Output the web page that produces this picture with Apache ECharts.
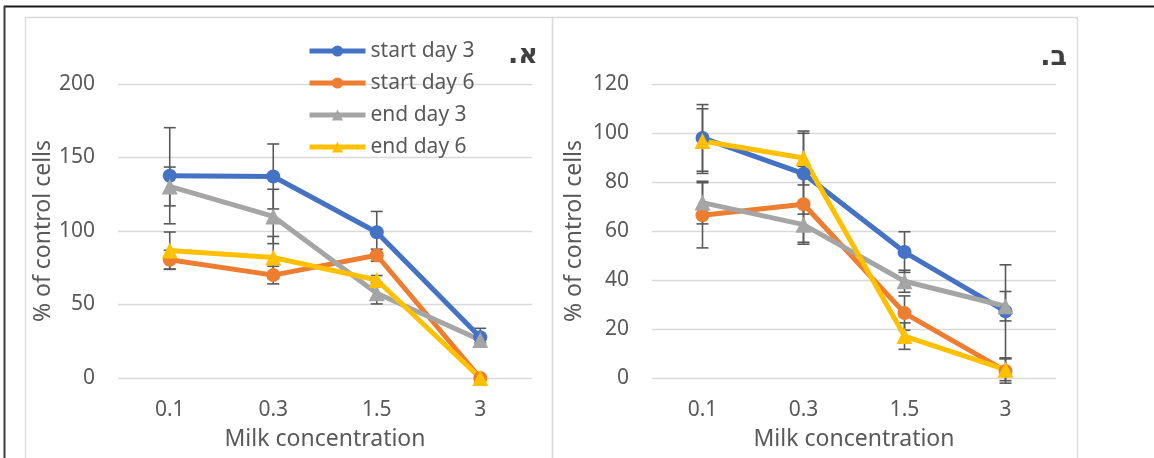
<!DOCTYPE html>
<html>
<head>
<meta charset="utf-8">
<script src="https://cdn.jsdelivr.net/npm/echarts@6/dist/echarts.min.js"></script>
<style>
  html, body { margin: 0; padding: 0; background: #fff; }
  #chart { width: 1154px; height: 458px; }
</style>
</head>
<body>
<div id="chart"></div>
<script>
// data
const categories = ['0.1', '0.3', '1.5', '3'];
const seriesNames = ['start day 3', 'start day 6', 'end day 3', 'end day 6'];

// panel א
const aStartDay3 = [137.6, 137.1, 99.2, 27.7];
const aStartDay6 = [80.4, 70.0, 83.5, 0];
const aEndDay3 = [130.3, 109.9, 57.7, 25.9];
const aEndDay6 = [86.7, 82.0, 66.7, 0];
const aErrStartDay3 = [32.7, 22.1, 14.1, 6.1];
const aErrStartDay6 = [6.5, 6.0, 4.1, 0];
const aErrEndDay3 = [13.2, 18.5, 7.3, 2];
const aErrEndDay6 = [12.6, 14.3, 3, 0];

// panel ב
const bStartDay3 = [98.0, 83.4, 51.4, 27.2];
const bStartDay6 = [66.4, 70.9, 26.5, 2.9];
const bEndDay3 = [71.6, 62.6, 39.5, 29.3];
const bEndDay6 = [96.7, 89.8, 17.1, 3.4];
const bErrStartDay3 = [13.6, 16.5, 8.3, 19];
const bErrStartDay6 = [13.3, 15.5, 7, 5];
const bErrEndDay3 = [8.7, 8, 4.5, 6];
const bErrEndDay6 = [13.2, 11, 5.4, 4.5];

const colors = ['#4472C4', '#ED7D31', '#A5A5A5', '#FFC000'];
const symbols = ['circle', 'circle', 'triangle', 'triangle'];
const textColor = '#595959';
const font = 'Noto Sans';

const chart = echarts.init(document.getElementById('chart'));

function errorRenderer(params, api) {
  const x = api.value(0);
  const lo = api.value(1);
  const hi = api.value(2);
  if (hi - lo <= 0) return null;
  const top = api.coord([x, hi]);
  const bot = api.coord([x, lo]);
  const hw = 6;
  const style = { stroke: '#595959', lineWidth: 1.6 };
  return {
    type: 'group',
    children: [
      { type: 'line', shape: { x1: top[0], y1: top[1], x2: bot[0], y2: bot[1] }, style },
      { type: 'line', shape: { x1: top[0] - hw, y1: top[1], x2: top[0] + hw, y2: top[1] }, style },
      { type: 'line', shape: { x1: bot[0] - hw, y1: bot[1], x2: bot[0] + hw, y2: bot[1] }, style }
    ]
  };
}

function makeSeries(idx, values, errs, name, color, symbol) {
  const errData = values.map((v, i) => [i, v - errs[i], v + errs[i]]);
  return [
    {
      type: 'custom',
      xAxisIndex: idx,
      yAxisIndex: idx,
      renderItem: errorRenderer,
      encode: { x: 0, y: [1, 2] },
      data: errData,
      z: 1,
      silent: true
    },
    {
      name,
      type: 'line',
      xAxisIndex: idx,
      yAxisIndex: idx,
      data: values,
      symbol,
      symbolSize: symbol === 'circle' ? 14 : 16,
      lineStyle: { color, width: 5 },
      itemStyle: { color },
      z: 3
    }
  ];
}

const aValues = [aStartDay3, aStartDay6, aEndDay3, aEndDay6];
const aErrs = [aErrStartDay3, aErrStartDay6, aErrEndDay3, aErrEndDay6];
const bValues = [bStartDay3, bStartDay6, bEndDay3, bEndDay6];
const bErrs = [bErrStartDay3, bErrStartDay6, bErrEndDay3, bErrEndDay6];

let series = [];
seriesNames.forEach((n, i) => {
  series = series.concat(makeSeries(0, aValues[i], aErrs[i], n, colors[i], symbols[i]));
});
seriesNames.forEach((n, i) => {
  series = series.concat(makeSeries(1, bValues[i], bErrs[i], n, colors[i], symbols[i]));
});

function xAxisFor(idx) {
  return {
    type: 'category',
    gridIndex: idx,
    data: categories,
    boundaryGap: true,
    axisLine: { show: false },
    axisTick: { show: false },
    axisLabel: { color: textColor, fontFamily: font, fontSize: 21, margin: 22 },
    name: 'Milk concentration',
    nameLocation: 'middle',
    nameGap: 50,
    nameTextStyle: { color: textColor, fontFamily: font, fontSize: 23 }
  };
}

function yAxisFor(idx, max, interval, gap) {
  return {
    type: 'value',
    gridIndex: idx,
    min: 0,
    max,
    interval,
    axisLine: { show: false },
    axisTick: { show: false },
    splitLine: { lineStyle: { color: '#D9D9D9', width: 1.3 } },
    axisLabel: { color: textColor, fontFamily: font, fontSize: 21, margin: 23 },
    name: '% of control cells',
    nameLocation: 'middle',
    nameGap: gap,
    nameTextStyle: { color: textColor, fontFamily: font, fontSize: 23 }
  };
}

// panel letters: force visual order "dot, letter" as in the picture
const LRO = '\u202D', PDF = '\u202C';

chart.setOption({
  backgroundColor: '#fff',
  animation: false,
  grid: [
    { left: 118, right: 622, top: 84, bottom: 80 },
    { left: 652, right: 98, top: 84, bottom: 80 }
  ],
  xAxis: [xAxisFor(0), xAxisFor(1)],
  yAxis: [yAxisFor(0, 200, 50, 60), yAxisFor(1, 120, 20, 66)],
  legend: {
    orient: 'vertical',
    left: 307,
    top: 39,
    padding: 0,
    itemWidth: 56,
    itemHeight: 14,
    itemGap: 8,
    data: seriesNames,
    lineStyle: { width: 5 },
    textStyle: { color: textColor, fontFamily: font, fontSize: 21, lineHeight: 24 }
  },
  graphic: [
    { type: 'rect', silent: true, z: -1, shape: { x: 25.5, y: 17.5, width: 527, height: 460 },
      style: { fill: 'none', stroke: '#D9D9D9', lineWidth: 1.3 } },
    { type: 'rect', silent: true, z: -1, shape: { x: 552.5, y: 17.5, width: 525, height: 460 },
      style: { fill: 'none', stroke: '#D9D9D9', lineWidth: 1.3 } },
    { type: 'line', silent: true, shape: { x1: 4, y1: 6.5, x2: 1154, y2: 6.5 },
      style: { stroke: '#1a1a1a', lineWidth: 2 } },
    { type: 'line', silent: true, shape: { x1: 4.5, y1: 6, x2: 4.5, y2: 458 },
      style: { stroke: '#3a3a3a', lineWidth: 2 } },
    { type: 'text', silent: true, style: { text: LRO + '.א' + PDF, x: 538, y: 56, align: 'right', verticalAlign: 'middle',
      fill: '#404040', font: 'bold 27px "DejaVu Sans"' } },
    { type: 'text', silent: true, style: { text: LRO + '.ב' + PDF, x: 1067, y: 58, align: 'right', verticalAlign: 'middle',
      fill: '#404040', font: 'bold 27px "DejaVu Sans"' } }
  ],
  series
});
window.addEventListener('resize', () => chart.resize());
</script>
</body>
</html>
